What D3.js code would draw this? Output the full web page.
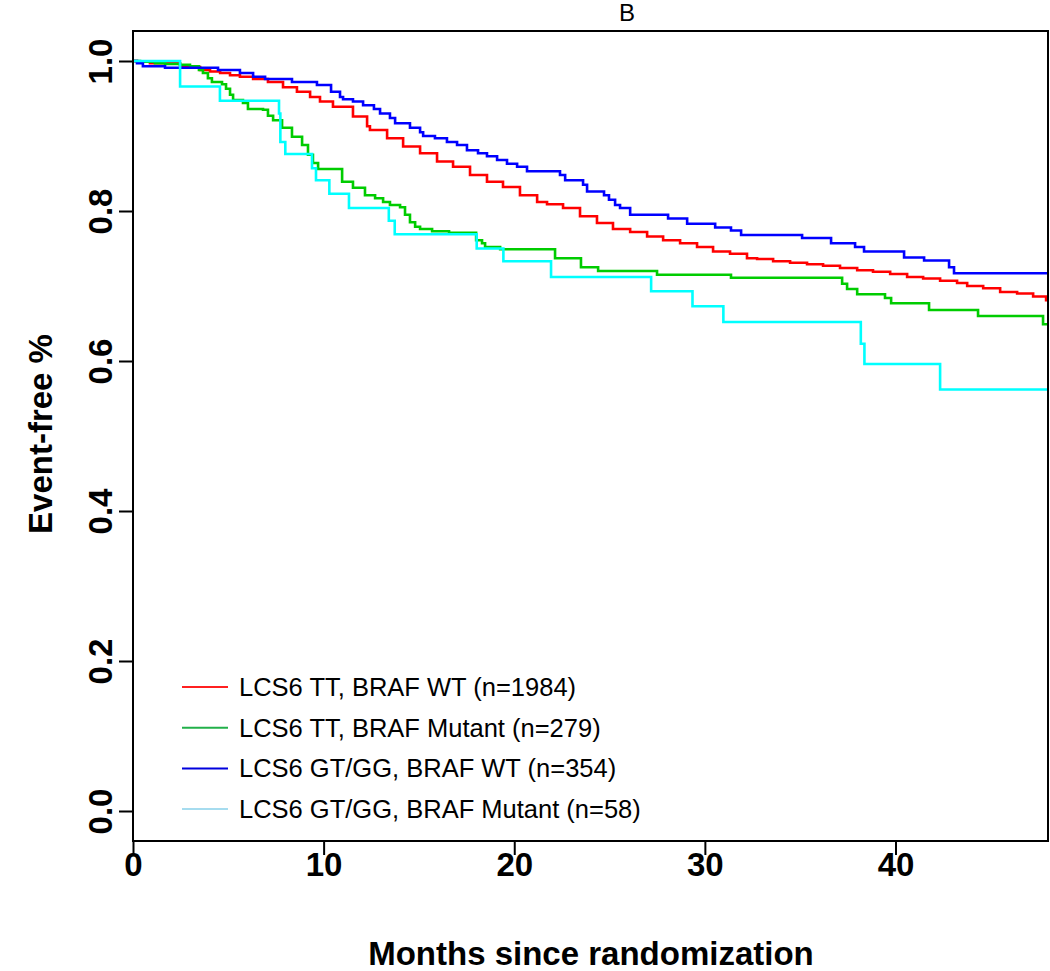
<!DOCTYPE html>
<html>
<head>
<meta charset="utf-8">
<script src="https://cdn.jsdelivr.net/npm/d3@7"></script>
<style>
  html, body { margin: 0; padding: 0; background: #fff; }
  svg { display: block; }
</style>
</head>
<body>
<svg id="chart" width="1050" height="971"></svg>
<script>
// ---------------- DATA ----------------
const chartTitle = "B";
const xTitle = "Months since randomization";
const yTitle = "Event-free %";
const xTicks = [0, 10, 20, 30, 40];
const yTicks = [0.0, 0.2, 0.4, 0.6, 0.8, 1.0];
const xMax = 48;

const seriesNames = [
  "LCS6 TT, BRAF WT (n=1984)",
  "LCS6 TT, BRAF Mutant (n=279)",
  "LCS6 GT/GG, BRAF WT (n=354)",
  "LCS6 GT/GG, BRAF Mutant (n=58)"
];
const curveColors = ["#ff0000", "#00cc00", "#0000ff", "#00ffff"];
const legendColors = ["#ff2020", "#22b04a", "#0000dd", "#a6dcef"];

// Event times (months) and survival after each event
const ttWtTimes = [0.21,0.89,2.47,3.52,4.04,4.57,5.09,5.61,6.30,7.08,7.87,8.60,9.29,9.81,10.49,11.54,12.28,12.43,13.33,14.17,15.06,15.95,16.79,17.68,18.57,19.41,20.30,21.20,21.72,22.56,23.45,24.34,25.18,26.08,26.97,27.81,28.70,29.59,30.43,31.32,32.21,32.74,33.58,34.47,35.36,36.20,37.09,37.99,38.82,39.72,40.61,41.45,42.34,43.23,43.76,44.60,45.49,46.38,47.22,47.90];
const ttWtSurv  = [0.999,0.997,0.992,0.988,0.986,0.984,0.981,0.979,0.976,0.972,0.965,0.959,0.952,0.946,0.939,0.926,0.913,0.908,0.897,0.886,0.877,0.866,0.859,0.848,0.839,0.832,0.821,0.812,0.809,0.804,0.793,0.784,0.776,0.772,0.766,0.761,0.757,0.752,0.746,0.743,0.737,0.736,0.733,0.731,0.729,0.727,0.724,0.721,0.719,0.716,0.712,0.710,0.707,0.704,0.700,0.697,0.692,0.690,0.686,0.681];

const ttMutTimes = [0.37,1.15,1.68,2.47,2.99,3.46,3.67,3.93,4.14,4.67,4.88,5.09,5.25,5.77,6.03,6.82,7.08,7.35,7.82,8.34,8.87,9.18,9.44,9.71,10.97,11.54,12.17,12.70,13.12,13.48,14.01,14.27,14.53,14.80,15.06,15.69,16.58,18.00,18.31,18.47,19.26,22.14,23.50,24.40,27.49,31.37,37.20,37.46,37.99,39.45,39.77,41.76,44.33,47.74];
const ttMutSurv  = [0.999,0.997,0.996,0.995,0.993,0.988,0.984,0.977,0.972,0.969,0.963,0.955,0.948,0.944,0.936,0.935,0.927,0.921,0.911,0.899,0.888,0.875,0.864,0.856,0.839,0.831,0.821,0.817,0.812,0.808,0.805,0.795,0.785,0.779,0.776,0.773,0.771,0.761,0.757,0.752,0.749,0.737,0.725,0.720,0.715,0.711,0.703,0.696,0.689,0.684,0.677,0.668,0.660,0.649];

const gtWtTimes = [0.21,0.52,1.68,4.46,5.61,6.30,6.93,8.34,9.65,10.39,10.86,11.02,11.54,12.07,12.64,12.96,13.48,13.75,14.53,15.06,15.22,15.84,16.47,17.00,17.52,18.10,18.57,19.10,19.62,20.15,20.67,22.40,22.67,23.61,23.82,24.71,24.97,25.29,25.55,26.08,28.07,29.07,30.54,31.37,31.90,35.10,36.62,37.88,38.35,40.45,41.50,42.81,43.07];
const gtWtSurv  = [0.997,0.993,0.991,0.988,0.984,0.979,0.976,0.972,0.968,0.959,0.952,0.949,0.946,0.941,0.936,0.930,0.924,0.917,0.911,0.905,0.900,0.897,0.892,0.888,0.881,0.877,0.873,0.868,0.863,0.859,0.853,0.848,0.841,0.835,0.826,0.821,0.815,0.808,0.804,0.795,0.790,0.783,0.778,0.774,0.768,0.764,0.757,0.752,0.746,0.738,0.734,0.725,0.717];

const gtMutTimes = [2.47,4.56,7.66,7.73,7.99,9.39,9.60,10.30,11.33,13.42,13.73,18.03,19.43,21.93,27.18,29.35,30.97,38.18,38.37,42.34];
const gtMutSurv  = [0.966,0.947,0.930,0.892,0.876,0.857,0.841,0.823,0.804,0.787,0.769,0.750,0.733,0.712,0.693,0.673,0.652,0.623,0.596,0.562];

const seriesTimes = [ttWtTimes, ttMutTimes, gtWtTimes, gtMutTimes];
const seriesSurv  = [ttWtSurv, ttMutSurv, gtWtSurv, gtMutSurv];

// ---------------- LAYOUT ----------------
const plot = { left: 133, right: 1048, top: 31, bottom: 841 };
const svg = d3.select("#chart");
const font = "'Liberation Sans', Arial, sans-serif";

const x = d3.scaleLinear().domain([0, xMax]).range([plot.left, plot.right]);
const y = d3.scaleLinear().domain([-0.04, 1.04]).range([plot.bottom, plot.top]);

const line = d3.line()
  .x(d => x(d[0]))
  .y(d => y(d[1]))
  .curve(d3.curveStepAfter);

seriesTimes.forEach((times, i) => {
  const pts = [[0, 1]];
  times.forEach((t, j) => pts.push([t, seriesSurv[i][j]]));
  pts.push([xMax, seriesSurv[i][seriesSurv[i].length - 1]]);
  svg.append("path")
    .attr("d", line(pts))
    .attr("fill", "none")
    .attr("stroke", curveColors[i])
    .attr("stroke-width", 2.6);
});

// Box
svg.append("rect")
  .attr("x", plot.left)
  .attr("y", plot.top)
  .attr("width", plot.right - plot.left)
  .attr("height", plot.bottom - plot.top)
  .attr("fill", "none")
  .attr("stroke", "#000")
  .attr("stroke-width", 2);

// X axis
const xAxis = svg.append("g")
  .attr("transform", `translate(0,${plot.bottom})`)
  .call(d3.axisBottom(x).tickValues(xTicks).tickFormat(d3.format("d")).tickSize(14).tickSizeOuter(0));
xAxis.select(".domain").remove();
xAxis.selectAll(".tick line").attr("stroke", "#000").attr("stroke-width", 2);
xAxis.selectAll(".tick text")
  .attr("y", 35).attr("dy", 0)
  .attr("fill", "#000")
  .style("font-family", font)
  .style("font-weight", "bold")
  .style("font-size", "33px");

// Y axis
const yAxis = svg.append("g")
  .attr("transform", `translate(${plot.left},0)`)
  .call(d3.axisLeft(y).tickValues(yTicks).tickFormat(d3.format(".1f")).tickSize(14).tickSizeOuter(0));
yAxis.select(".domain").remove();
yAxis.selectAll(".tick line").attr("stroke", "#000").attr("stroke-width", 2);
yAxis.selectAll(".tick text")
  .attr("transform", "rotate(-90)")
  .attr("x", 0).attr("y", -21).attr("dy", 0)
  .attr("text-anchor", "middle")
  .attr("fill", "#000")
  .style("font-family", font)
  .style("font-weight", "bold")
  .style("font-size", "33px");

// Titles
svg.append("text")
  .attr("x", 627).attr("y", 21)
  .attr("text-anchor", "middle")
  .style("font-family", font)
  .style("font-size", "24px")
  .text(chartTitle);

svg.append("text")
  .attr("x", 591).attr("y", 965)
  .attr("text-anchor", "middle")
  .style("font-family", font)
  .style("font-weight", "bold")
  .style("font-size", "33px")
  .text(xTitle);

svg.append("text")
  .attr("transform", `translate(52,434) rotate(-90)`)
  .attr("text-anchor", "middle")
  .style("font-family", font)
  .style("font-weight", "bold")
  .style("font-size", "33px")
  .text(yTitle);

// Legend
const legend = svg.append("g");
seriesNames.forEach((name, i) => {
  const ly = 687 + i * 40.7;
  legend.append("line")
    .attr("x1", 182).attr("x2", 228)
    .attr("y1", ly).attr("y2", ly)
    .attr("stroke", legendColors[i])
    .attr("stroke-width", 2);
  legend.append("text")
    .attr("x", 239).attr("y", ly + 9)
    .style("font-family", font)
    .style("font-size", "25.5px")
    .attr("fill", "#000")
    .text(name);
});
</script>
</body>
</html>
